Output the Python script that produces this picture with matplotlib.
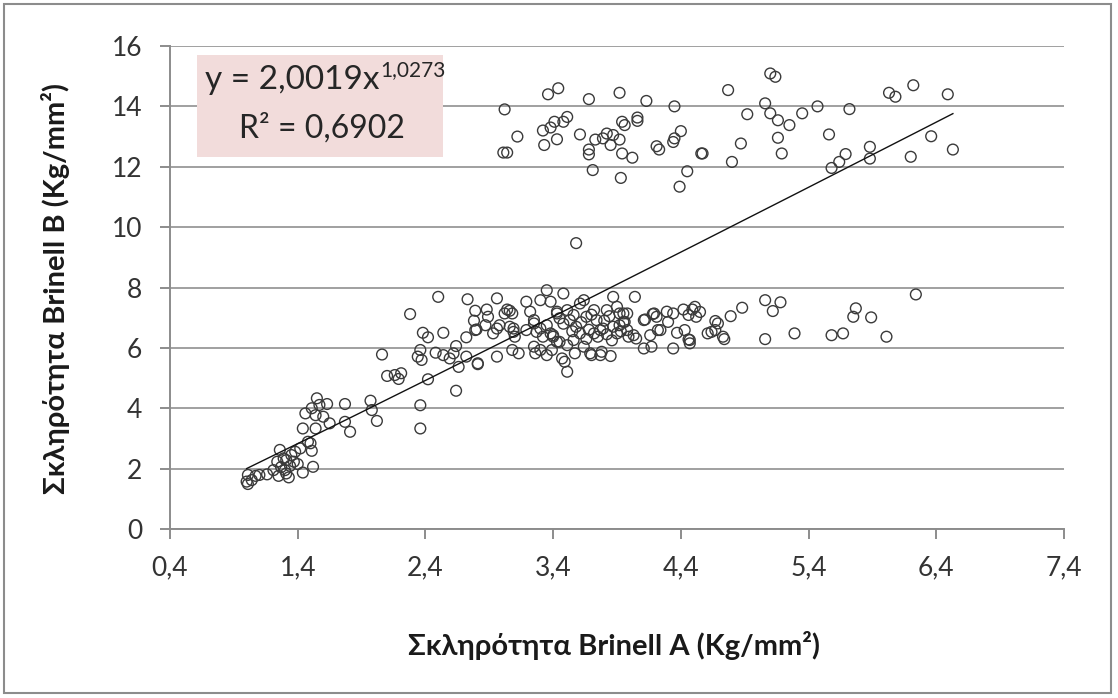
import matplotlib
matplotlib.use("Agg")
import matplotlib.pyplot as plt
import numpy as np
from matplotlib.patches import Rectangle

plt.rcParams['font.family'] = ['Lato', 'Noto Sans', 'DejaVu Sans']

# ---- data ----
low_x = [1.00, 1.01, 1.04, 1.01, 1.07, 1.10, 1.16, 1.21, 1.25, 1.24, 1.26, 1.29, 1.30, 1.31,
         1.31, 1.33, 1.34, 1.37, 1.38, 1.42, 1.44, 1.48, 1.50, 1.51, 1.52, 1.44, 1.54, 1.46,
         1.51, 1.55, 1.57, 1.63, 1.54, 1.60, 1.65, 1.77, 1.77, 1.81, 1.97, 1.98, 2.02, 2.36,
         2.36, 1.35, 1.40, 1.27]
low_y = [1.57, 1.49, 1.62, 1.79, 1.76, 1.79, 1.81, 1.95, 1.76, 2.23, 2.62, 2.34, 1.95, 2.28,
         1.84, 1.71, 2.09, 2.23, 2.56, 2.67, 1.87, 2.89, 2.84, 2.59, 2.06, 3.33, 3.33, 3.83,
         4.00, 4.33, 4.11, 4.14, 3.77, 3.72, 3.50, 4.14, 3.55, 3.22, 4.25, 3.94, 3.58, 4.10,
         3.33, 2.45, 2.15, 2.05]

mid_x = [2.06, 2.10, 2.16, 2.19, 2.21, 2.28, 2.38, 2.42, 2.36, 2.34, 2.37, 2.42, 2.50, 2.54,
         2.48, 2.54, 2.59, 2.62, 2.64, 2.64, 2.72, 2.72, 2.66, 2.81, 2.73, 2.79, 2.78, 2.80,
         2.88, 2.87, 2.96, 2.96, 2.96, 3.04, 3.06, 2.89, 2.93, 2.79, 2.81, 3.02, 3.08, 3.09,
         3.10, 3.08, 3.13, 3.06, 3.09, 2.98, 3.19, 3.22, 3.25, 3.30, 3.35, 3.38, 3.48, 3.43,
         3.26, 3.30, 3.35, 3.47, 3.49, 3.51, 3.25, 3.30, 3.35, 3.38, 3.32, 3.19, 3.27, 3.40,
         3.43, 3.25, 3.39, 3.43, 3.45, 3.51, 3.53, 3.56, 3.61, 3.64, 3.40, 3.45, 3.51, 3.56,
         3.61, 3.64, 3.66, 3.72, 3.74, 3.77, 3.72, 3.75, 3.79, 3.69, 3.77, 3.85, 3.82, 3.87,
         3.90, 3.92, 3.98, 3.95, 3.98, 3.87, 3.90, 3.99, 4.03, 4.05, 4.04, 4.11, 4.19, 4.21,
         4.24, 4.11, 4.17, 4.34, 4.29, 4.34, 4.30, 3.57, 3.70, 3.78, 4.47, 4.47, 4.74, 5.06,
         5.29, 5.58, 5.67, 6.01, 5.75, 5.77, 5.89, 5.06, 5.12, 5.18, 4.88, 4.79, 4.67, 4.69,
         4.67, 4.61, 4.64, 4.73, 4.42, 4.49, 4.51, 4.55, 4.46, 4.52, 4.37, 4.43, 4.46, 4.22,
         4.16, 4.12, 4.18, 3.95, 3.96, 3.92, 6.24, 3.58, 3.58, 3.62, 3.68, 3.70, 3.80, 3.84,
         3.86, 3.93, 3.55, 3.48, 3.66, 3.82]
mid_y = [5.78, 5.07, 5.10, 4.97, 5.16, 7.12, 6.50, 6.35, 5.93, 5.71, 5.60, 4.96, 7.69, 6.50,
         5.84, 5.76, 5.65, 5.82, 6.06, 4.58, 6.35, 5.71, 5.37, 5.46, 7.61, 7.23, 6.90, 6.61,
         7.27, 6.75, 6.64, 5.71, 7.64, 7.27, 7.23, 7.03, 6.48, 6.59, 5.49, 7.14, 7.14, 6.64,
         6.37, 5.93, 5.82, 6.70, 6.53, 6.75, 7.53, 7.20, 6.92, 7.58, 7.91, 7.53, 7.80, 7.14,
         5.82, 5.93, 5.76, 5.65, 5.54, 5.21, 6.81, 6.64, 6.75, 6.48, 6.37, 6.59, 6.53, 6.42,
         6.20, 6.04, 5.93, 7.20, 6.98, 7.25, 6.92, 7.09, 7.47, 7.58, 6.37, 6.20, 6.09, 6.26,
         6.48, 6.04, 7.03, 7.25, 6.92, 6.59, 6.48, 6.37, 6.64, 5.82, 5.76, 5.73, 7.25, 7.69,
         7.36, 7.14, 7.14, 6.86, 6.59, 6.70, 6.48, 6.37, 6.42, 6.31, 7.69, 6.92, 7.14, 7.03,
         6.59, 5.98, 6.04, 5.98, 7.20, 7.14, 6.86, 5.82, 5.76, 5.87, 6.15, 6.26, 6.29, 6.29,
         6.48, 6.42, 6.48, 6.37, 7.03, 7.31, 7.01, 7.58, 7.22, 7.51, 7.33, 7.05, 6.89, 6.81,
         6.59, 6.48, 6.53, 6.37, 7.27, 7.27, 7.36, 7.19, 7.09, 7.03, 6.50, 6.59, 6.28, 6.59,
         6.42, 6.94, 7.12, 7.14, 6.86, 6.75, 7.77, 9.47, 6.70, 6.85, 6.60, 7.10, 6.90, 7.05,
         6.25, 6.55, 6.55, 6.80, 6.30, 6.45]

high_x = [3.02, 3.12, 3.01, 3.04, 3.36, 3.44, 3.32, 3.38, 3.41, 3.48, 3.51, 3.43, 3.33, 3.61,
          3.68, 3.73, 3.68, 3.68, 3.71, 3.79, 3.82, 3.87, 3.85, 3.92, 3.92, 3.94, 3.96, 3.94,
          4.02, 3.93, 4.06, 4.06, 4.13, 4.21, 4.23, 4.35, 4.34, 4.35, 4.40, 4.45, 4.39, 4.56,
          4.57, 4.77, 4.80, 4.87, 4.92, 5.06, 5.10, 5.14, 5.10, 5.16, 5.16, 5.19, 5.25, 5.35,
          5.47, 5.56, 5.58, 5.64, 5.69, 5.72, 5.88, 5.88, 6.03, 6.08, 6.22, 6.20, 6.36, 6.49,
          6.53]
high_y = [13.90, 13.00, 12.47, 12.47, 14.40, 14.60, 13.20, 13.30, 13.49, 13.49, 13.65, 12.91,
          12.72, 13.07, 14.24, 12.90, 12.57, 12.41, 11.89, 12.94, 13.10, 13.05, 12.72, 12.90,
          14.45, 13.49, 13.38, 12.44, 12.30, 11.63, 13.63, 13.52, 14.18, 12.68, 12.57, 14.00,
          12.82, 12.94, 13.18, 11.85, 11.34, 12.44, 12.44, 14.54, 12.16, 12.77, 13.74, 14.10,
          15.09, 14.98, 13.77, 13.54, 12.96, 12.44, 13.38, 13.77, 14.00, 13.07, 11.96, 12.16,
          12.42, 13.91, 12.66, 12.27, 14.45, 14.32, 14.70, 12.33, 13.01, 14.40, 12.57]

trend_a = 2.0019
trend_b = 1.0273
x_ticks = [0.4, 1.4, 2.4, 3.4, 4.4, 5.4, 6.4, 7.4]
x_tick_labels = ["0,4", "1,4", "2,4", "3,4", "4,4", "5,4", "6,4", "7,4"]
y_ticks = [0, 2, 4, 6, 8, 10, 12, 14, 16]
eq_text = "y = 2,0019x"
eq_exp = "1,0273"
r2_text = "R\u00b2 = 0,6902"
x_title = "Σκληρότητα Brinell A (Kg/mm\u00b2)"
y_title = "Σκληρότητα Brinell B (Kg/mm\u00b2)"

# ---- figure ----
W, H = 1118, 698
fig = plt.figure(figsize=(W / 100, H / 100), dpi=100)
fig.patch.set_facecolor("white")

def fx(px):
    return px / W

def fy(py):
    return 1 - py / H

# outer frame
fig.patches.append(Rectangle((fx(4), fy(693)), fx(1111) - fx(4), fy(4) - fy(693),
                             transform=fig.transFigure, fill=False,
                             edgecolor="#8c8c8c", linewidth=1.5))

left, right, top, bottom = 170, 1064, 46, 529
ax = fig.add_axes([fx(left), fy(bottom), fx(right) - fx(left), fy(top) - fy(bottom)])

all_x = np.array(low_x + mid_x + high_x)
all_y = np.array(low_y + mid_y + high_y)

ax.scatter(all_x, all_y, s=60, facecolors="none", edgecolors="#3a3a3a",
           linewidths=1.0, zorder=3)

tx = np.linspace(all_x.min(), all_x.max(), 200)
ax.plot(tx, trend_a * tx ** trend_b, color="#111111", linewidth=1.0, zorder=4)

ax.set_xlim(0.4, 7.4)
ax.set_ylim(0, 16)
ax.set_xticks(x_ticks)
ax.set_xticklabels(x_tick_labels)
ax.set_yticks(y_ticks)
ax.set_yticklabels([str(v) for v in y_ticks])

ax.grid(axis="y", color="#a0a0a0", linewidth=1.4, zorder=0)
ax.set_axisbelow(True)
for s in ["top", "right"]:
    ax.spines[s].set_visible(False)
for s in ["left", "bottom"]:
    ax.spines[s].set_color("#8c8c8c")
    ax.spines[s].set_linewidth(1.4)
ax.tick_params(axis="both", direction="out", length=7, width=1.4, color="#8c8c8c",
               labelsize=19, labelcolor="#333333")
ax.tick_params(axis="x", pad=12)
ax.tick_params(axis="y", pad=13)

fig.text(fx(614), fy(645), x_title, fontsize=21, fontweight="bold", color="#1a1a1a",
         ha="center", va="center")
fig.text(fx(56), fy(288), y_title, fontsize=21, fontweight="bold", color="#1a1a1a",
         ha="center", va="center", rotation=90)

# equation box
fig.patches.append(Rectangle((fx(197), fy(157)), fx(443) - fx(197), fy(55) - fy(157),
                             transform=fig.transFigure, facecolor="#f2dcdb",
                             edgecolor="none", zorder=5))
t1 = fig.text(fx(205), fy(80), eq_text, fontsize=24, color="#262626",
              ha="left", va="center", zorder=6)
fig.canvas.draw()
bb = t1.get_window_extent()
fig.text((bb.x1 + 1) / W, fy(70), eq_exp, fontsize=15, color="#262626",
         ha="left", va="center", zorder=6)
fig.text(fx(322), fy(128), r2_text, fontsize=23, color="#262626",
         ha="center", va="center", zorder=6)

fig.savefig("out.png", dpi=100)
